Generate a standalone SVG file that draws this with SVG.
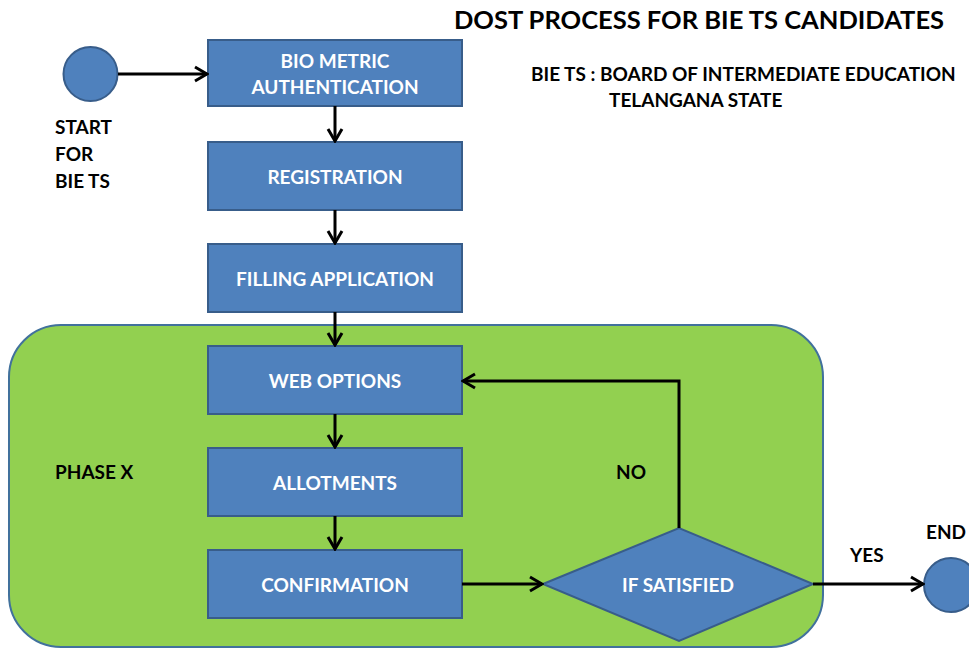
<svg xmlns="http://www.w3.org/2000/svg" width="969" height="649" viewBox="0 0 969 649">
<defs>
<marker id="arr" markerUnits="userSpaceOnUse" markerWidth="16" markerHeight="18" viewBox="0 0 16 18" refX="14" refY="9" orient="auto">
<path d="M2,2 L14,9 L2,16" fill="none" stroke="#000" stroke-width="3" stroke-linejoin="miter"/>
</marker>
<style>
.box{fill:#4F81BD;stroke:#385D8A;stroke-width:2}
.wt{font-family:Lato,"Liberation Sans",sans-serif;font-weight:bold;font-size:19px;fill:#fff;text-anchor:middle}
.bt{font-family:Lato,"Liberation Sans",sans-serif;font-weight:bold;font-size:19px;fill:#000}
.ln{fill:none;stroke:#000;stroke-width:3}
</style>
</defs>
<rect x="0" y="0" width="969" height="649" fill="#fff"/>
<g id="phase">
<rect x="9" y="325" width="814" height="322" rx="52" ry="52" fill="#92D050" stroke="#41719C" stroke-width="2"/>
<text class="bt" x="55" y="479">PHASE X</text>
</g>
<g id="title">
<text x="699" y="29" font-family="Lato,'Liberation Sans',sans-serif" font-weight="bold" font-size="25.5" text-anchor="middle" fill="#000">DOST PROCESS FOR BIE TS CANDIDATES</text>
<text class="bt" x="531" y="81" font-size="18.7">BIE TS : BOARD OF INTERMEDIATE EDUCATION</text>
<text class="bt" x="609" y="107" font-size="18.7">TELANGANA STATE</text>
</g>
<g id="start">
<circle cx="90.5" cy="74" r="27" class="box"/>
<text class="bt" x="55" y="134">START</text>
<text class="bt" x="55" y="161">FOR</text>
<text class="bt" x="55" y="188">BIE TS</text>
</g>
<g id="bio">
<rect class="box" x="208" y="40" width="254" height="66"/>
<text class="wt" x="335" y="68">BIO METRIC</text>
<text class="wt" x="335" y="94">AUTHENTICATION</text>
</g>
<g id="registration">
<rect class="box" x="208" y="142" width="254" height="68"/>
<text class="wt" x="335" y="184">REGISTRATION</text>
</g>
<g id="filling">
<rect class="box" x="208" y="244" width="254" height="68"/>
<text class="wt" x="335" y="286">FILLING APPLICATION</text>
</g>
<g id="web">
<rect class="box" x="208" y="346" width="254" height="68"/>
<text class="wt" x="335" y="388">WEB OPTIONS</text>
</g>
<g id="allot">
<rect class="box" x="208" y="448" width="254" height="68"/>
<text class="wt" x="335" y="490">ALLOTMENTS</text>
</g>
<g id="confirm">
<rect class="box" x="208" y="550" width="254" height="68"/>
<text class="wt" x="335" y="592">CONFIRMATION</text>
</g>
<g id="decision">
<polygon class="box" points="543,584 679,528 813,584 679,641"/>
<text class="wt" x="678" y="592">IF SATISFIED</text>
</g>
<g id="end">
<circle cx="951" cy="585" r="27" class="box"/>
<text class="bt" x="926" y="539">END</text>
</g>
<g id="connectors">
<line class="ln" x1="118" y1="74" x2="207" y2="74" marker-end="url(#arr)"/>
<line class="ln" x1="335" y1="106" x2="335" y2="141" marker-end="url(#arr)"/>
<line class="ln" x1="335" y1="210" x2="335" y2="243" marker-end="url(#arr)"/>
<line class="ln" x1="335" y1="312" x2="335" y2="345" marker-end="url(#arr)"/>
<line class="ln" x1="335" y1="414" x2="335" y2="447" marker-end="url(#arr)"/>
<line class="ln" x1="335" y1="516" x2="335" y2="549" marker-end="url(#arr)"/>
<line class="ln" x1="462" y1="584" x2="542" y2="584" marker-end="url(#arr)"/>
<polyline class="ln" points="679,528 679,381 463,381" marker-end="url(#arr)"/>
<line class="ln" x1="813" y1="584" x2="923" y2="584" marker-end="url(#arr)"/>
<text class="bt" x="616" y="479">NO</text>
<text class="bt" x="850" y="562">YES</text>
</g>
</svg>
